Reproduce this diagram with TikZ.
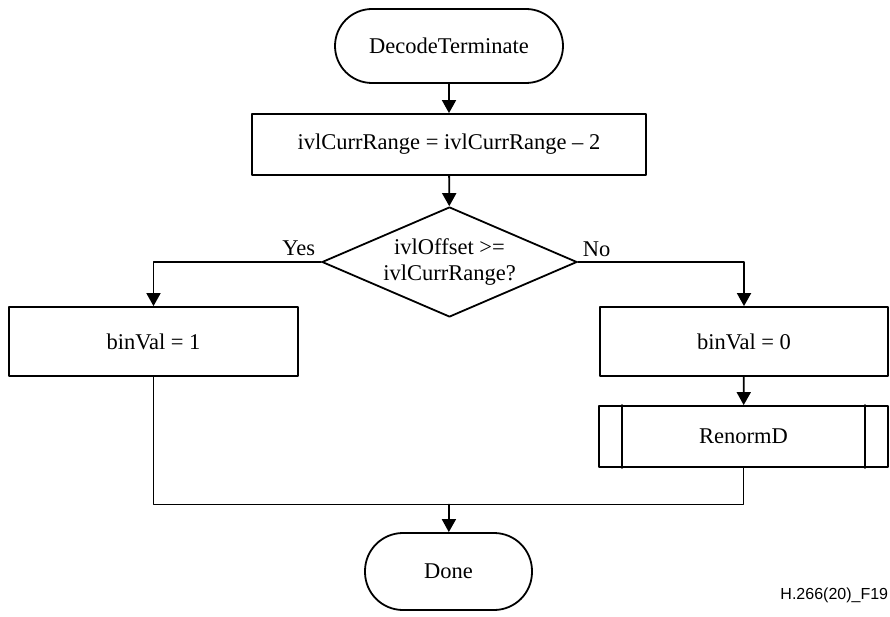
\documentclass[tikz,border=0pt]{standalone}
\usepackage{fontspec}
\setmainfont{Liberation Serif}
\newfontfamily\labelfont{Liberation Sans}
\usetikzlibrary{shapes.geometric,arrows.meta}
\begin{document}
\begin{tikzpicture}[x=1pt,y=-1pt,>={Triangle[length=13pt,width=14pt]},line cap=round,line join=round,line width=1.8pt,
	font=\fontsize{22.5}{26}\selectfont,
	term/.style={draw,rectangle,rounded corners=37pt,minimum height=74pt,inner sep=0pt},
	proc/.style={draw,rectangle,minimum height=69pt,inner sep=0pt},
	decide/.style={draw,diamond,aspect=2.3,inner sep=0pt,minimum width=255pt,minimum height=110pt,align=center},
	subproc/.style={draw,rectangle,minimum width=289pt,minimum height=61pt,inner sep=0pt}]
	\useasboundingbox (0,0) rectangle (890,617);
	\path
	(449,46)node[term,minimum width=228pt](start){DecodeTerminate}
	(449,144.5)node[proc,minimum width=394pt,minimum height=61pt](init){ivlCurrRange = ivlCurrRange -- 2}
	(449.5,262)node[decide](test){ivlOffset >=\\ivlCurrRange?}
	(153.5,341.5)node[proc,minimum width=289pt](one){binVal = 1}
	(744,341.5)node[proc,minimum width=288pt](zero){binVal = 0}
	(743.5,436.5)node[subproc](renorm){RenormD}
	(448.5,571.5)node[term,minimum width=167pt,minimum height=77pt,rounded corners=38pt](done){Done}
	(449,504.5)coordinate(join)
	(889,595)node[anchor=east,inner sep=0pt,font=\labelfont\fontsize{16}{18}\selectfont](credit){H.266(20)\_F19}
	;
	\draw ([xshift=24pt]renorm.north west)--([xshift=24pt]renorm.south west);
	\draw ([xshift=-24pt]renorm.north east)--([xshift=-24pt]renorm.south east);
	\draw[->](start)--(init);
	\draw[->](init)--(test);
	\draw[->](test.west)node[above left,inner sep=5pt]{Yes}-|(one.north);
	\draw[->](test.east)node[above right,inner sep=4pt]{No}-|(zero.north);
	\draw[->](zero)--(renorm);
	\draw(one.south)|-(join);
	\draw(renorm.south)|-(join);
	\draw[->](join)--(done);
\end{tikzpicture}
\end{document}
